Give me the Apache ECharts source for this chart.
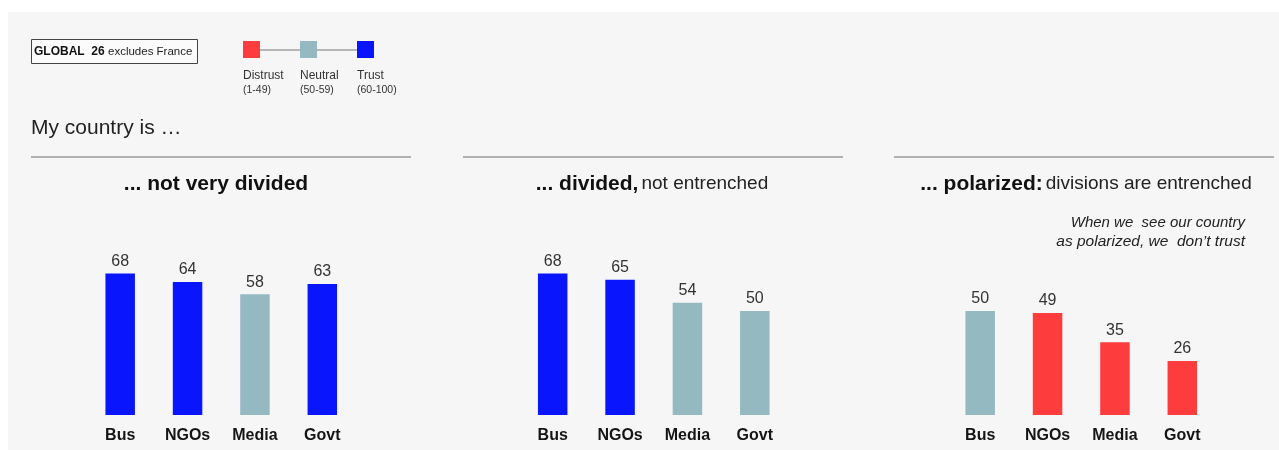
<!DOCTYPE html>
<html>
<head>
<meta charset="utf-8">
<script src="https://cdn.jsdelivr.net/npm/echarts@6/dist/echarts.min.js"></script>
<style>
  html, body { margin: 0; padding: 0; background: #ffffff; }
  #chart { width: 1279px; height: 450px; }
</style>
</head>
<body>
<div id="chart"></div>
<script>
// Trust in institutions by how divided people see their country
const categories = ['Bus', 'NGOs', 'Media', 'Govt'];
const notDivided = [68, 64, 58, 63];
const dividedNotEntrenched = [68, 65, 54, 50];
const polarized = [50, 49, 35, 26];

const legendLabels = ['Distrust', 'Neutral', 'Trust'];
const legendRanges = ['(1-49)', '(50-59)', '(60-100)'];

const COLORS = { distrust: '#fd3d3d', neutral: '#94b9c0', trust: '#0916fd' };
function trustColor(v) {
  if (v >= 60) return COLORS.trust;
  if (v >= 50) return COLORS.neutral;
  return COLORS.distrust;
}
const legendColors = [COLORS.distrust, COLORS.neutral, COLORS.trust];

const FONT = '"Liberation Sans", Arial, sans-serif';
const panels = [notDivided, dividedNotEntrenched, polarized];
const gridLefts = [86.5, 519, 946.5];
const gridWidth = 269.5;

const chart = echarts.init(document.getElementById('chart'));

const grids = gridLefts.map(l => ({ left: l, width: gridWidth, top: 207, bottom: 35 }));
const xAxes = panels.map((_, i) => ({
  type: 'category', gridIndex: i, data: categories,
  axisLine: { show: false }, axisTick: { show: false },
  axisLabel: { margin: 13, fontFamily: FONT, fontSize: 16, fontWeight: 'bold', color: '#151515' }
}));
const yAxes = panels.map((_, i) => ({
  type: 'value', gridIndex: i, min: 0, max: 100, show: false, splitLine: { show: false }
}));
const series = panels.map((vals, i) => ({
  type: 'bar', xAxisIndex: i, yAxisIndex: i, barWidth: 29.5,
  data: vals.map(v => ({ value: v, itemStyle: { color: trustColor(v) } })),
  label: { show: true, position: 'top', distance: 4, fontFamily: FONT, fontSize: 16, color: '#333' },
  silent: true
}));

const titleRich = {
  b: { fontFamily: FONT, fontSize: 21, fontWeight: 'bold', fill: '#111' },
  n: { fontFamily: FONT, fontSize: 19, fill: '#222', padding: [0, 0, 0, 3] }
};

const graphic = [
  { type: 'rect', shape: { x: 8, y: 12, width: 1271, height: 438 }, style: { fill: '#f6f6f6' }, z: -10 },
  // GLOBAL 26 box
  { type: 'rect', shape: { x: 31.5, y: 39.5, width: 166, height: 24 }, style: { fill: '#fbfbfb', stroke: '#444', lineWidth: 1 } },
  { type: 'text', style: { x: 34, y: 51.5, verticalAlign: 'middle', text: '{b|GLOBAL  26} {n|excludes France}',
      rich: { b: { fontFamily: FONT, fontSize: 12, fontWeight: 'bold', fill: '#111' }, n: { fontFamily: FONT, fontSize: 11.5, fill: '#222' } } } },
  // legend connector line
  { type: 'line', shape: { x1: 252, y1: 50, x2: 366, y2: 50 }, style: { stroke: '#777', lineWidth: 1 } },
  // My country is ...
  { type: 'text', style: { x: 31, y: 128, verticalAlign: 'middle', text: 'My country is \u2026', fontFamily: FONT, fontSize: 21, fill: '#222' } },
  // panel titles
  { type: 'text', style: { x: 216, y: 184, align: 'center', verticalAlign: 'middle', text: '{b|... not very divided}', rich: titleRich } },
  { type: 'text', style: { x: 652, y: 184, align: 'center', verticalAlign: 'middle', text: '{b|... divided,}{n|not entrenched}', rich: titleRich } },
  { type: 'text', style: { x: 1086, y: 184, align: 'center', verticalAlign: 'middle', text: '{b|... polarized:}{n|divisions are entrenched}', rich: titleRich } },
  // annotation
  { type: 'text', style: { x: 1245, y: 223, align: 'right', verticalAlign: 'middle', text: 'When we  see our country', fontFamily: FONT, fontSize: 15, fontStyle: 'italic', fill: '#222' } },
  { type: 'text', style: { x: 1245, y: 242, align: 'right', verticalAlign: 'middle', text: 'as polarized, we  don\u2019t trust', fontFamily: FONT, fontSize: 15.5, fontStyle: 'italic', fill: '#222' } }
];

// separator rules above each panel title
[[31, 411], [463, 843], [894, 1274]].forEach(([a, b]) => {
  graphic.push({ type: 'line', shape: { x1: a, y1: 157, x2: b, y2: 157 }, style: { stroke: '#9a9a9a', lineWidth: 1.5 } });
});

// legend swatches and labels
const legendX = [243, 300, 357];
legendLabels.forEach((lab, i) => {
  graphic.push({ type: 'rect', shape: { x: legendX[i], y: 41, width: 17, height: 17 }, style: { fill: legendColors[i] } });
  graphic.push({ type: 'text', style: { x: legendX[i], y: 76, verticalAlign: 'middle', text: lab, fontFamily: FONT, fontSize: 12, fill: '#333' } });
  graphic.push({ type: 'text', style: { x: legendX[i], y: 90, verticalAlign: 'middle', text: legendRanges[i], fontFamily: FONT, fontSize: 10.5, fill: '#333' } });
});

chart.setOption({
  backgroundColor: '#ffffff',
  animation: false,
  grid: grids,
  xAxis: xAxes,
  yAxis: yAxes,
  series: series,
  graphic: graphic
});
</script>
</body>
</html>
